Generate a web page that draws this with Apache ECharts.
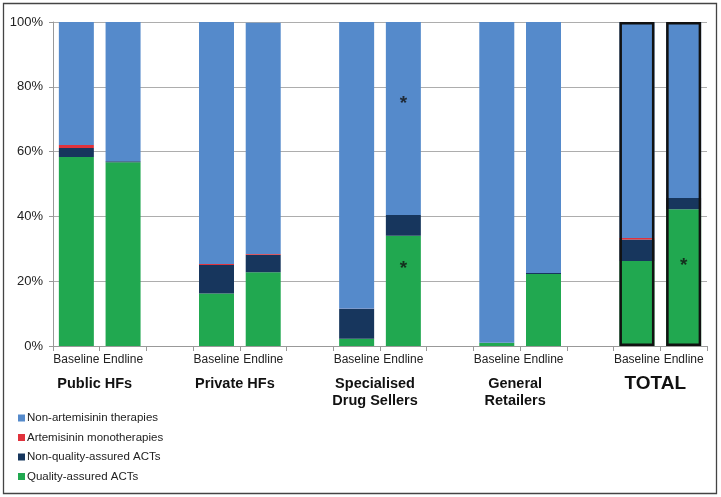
<!DOCTYPE html>
<html>
<head>
<meta charset="utf-8">
<style>
  html, body { margin: 0; padding: 0; background: #fff; }
  #chart { width: 721px; height: 497px; }
</style>
<script src="https://cdn.jsdelivr.net/npm/echarts@6/dist/echarts.min.js"></script>
</head>
<body>
<div id="chart"></div>
<script>
// ---- Data ----
const categories = [
  'Public HFs|Baseline', 'Public HFs|Endline', 'gap1',
  'Private HFs|Baseline', 'Private HFs|Endline', 'gap2',
  'Specialised Drug Sellers|Baseline', 'Specialised Drug Sellers|Endline', 'gap3',
  'General Retailers|Baseline', 'General Retailers|Endline', 'gap4',
  'TOTAL|Baseline', 'TOTAL|Endline'
];
const groupLabels = ['Public HFs', 'Private HFs', 'Specialised\nDrug Sellers', 'General\nRetailers', 'TOTAL'];
const groupFirstIndex = [0, 3, 6, 9, 12];
const yTicks = [0, 20, 40, 60, 80, 100];

const qualityAssured   = [58.3, 56.7, null, 16.2, 22.8, null, 2.2, 34.0, null, 1.0, 22.2, null, 26.2, 42.2];
const nonQualityACT    = [2.8, 0.3, null, 8.8, 5.4, null, 9.2, 6.4, null, 0, 0.3, null, 6.7, 3.5];
const artemisininMono  = [0.9, 0, null, 0.3, 0.2, null, 0.1, 0, null, 0, 0, null, 0.4, 0];
const nonArtemisinin   = [38.0, 43.0, null, 74.7, 71.4, null, 88.5, 59.6, null, 99.0, 77.5, null, 66.7, 54.3];
const outlinedIndices  = [12, 13];
const asterisks = [
  ['Specialised Drug Sellers|Endline', 76],
  ['Specialised Drug Sellers|Endline', 25],
  ['TOTAL|Endline', 26]
];

const C_BLUE = '#558ACB', C_RED = '#E0323C', C_NAVY = '#17365D', C_GREEN = '#21A850';

// outline series: total height of the stacked bar for highlighted bars
const outlineData = categories.map((c, i) => outlinedIndices.indexOf(i) >= 0
  ? (qualityAssured[i] + nonQualityACT[i] + artemisininMono[i] + nonArtemisinin[i]) : null);

const chart = echarts.init(document.getElementById('chart'), null, { renderer: 'canvas' });
const FONT = 'Liberation Sans, Arial, sans-serif';

function barSeries(name, data, color) {
  return {
    name, type: 'bar', stack: 'all', data, barWidth: 35, barGap: '-100%',
    itemStyle: { color }, emphasis: { disabled: true }, silent: true
  };
}

chart.setOption({
  animation: false,
  textStyle: { fontFamily: FONT },
  grid: { left: 53, right: 14, top: 22, bottom: 151, containLabel: false },
  legend: {
    orient: 'vertical', left: 13, top: 406,
    itemWidth: 7, itemHeight: 7, itemGap: 5.5,
    icon: 'rect',
    textStyle: { fontSize: 11.5, color: '#222', fontFamily: FONT, lineHeight: 14, padding: [0, 0, 0, -3] },
    data: ['Non-artemisinin therapies', 'Artemisinin monotherapies', 'Non-quality-assured ACTs', 'Quality-assured ACTs'],
    selectedMode: false
  },
  xAxis: {
    type: 'category', data: categories,
    axisLine: { lineStyle: { color: '#999', width: 1 } },
    axisTick: { show: true, length: 5, lineStyle: { color: '#999' }, alignWithLabel: false },
    axisLabel: {
      interval: 0, fontSize: 12, color: '#222', margin: 8, fontFamily: FONT,
      formatter: v => v.indexOf('|') >= 0 ? v.split('|')[1] : ''
    },
    splitLine: { show: false }
  },
  yAxis: {
    type: 'value', min: yTicks[0], max: yTicks[yTicks.length - 1], interval: 20,
    axisLine: { show: true, lineStyle: { color: '#999' } },
    axisTick: { show: true, length: 4, lineStyle: { color: '#999' } },
    axisLabel: { fontSize: 13, color: '#222', margin: 10, formatter: '{value}%', fontFamily: FONT },
    splitLine: { lineStyle: { color: '#ADADAD', width: 1 } }
  },
  series: [
    barSeries('Quality-assured ACTs', qualityAssured, C_GREEN),
    barSeries('Non-quality-assured ACTs', nonQualityACT, C_NAVY),
    barSeries('Artemisinin monotherapies', artemisininMono, C_RED),
    barSeries('Non-artemisinin therapies', nonArtemisinin, C_BLUE),
    {
      name: 'outline', type: 'bar', data: outlineData, barWidth: 35, barGap: '-100%',
      itemStyle: { color: 'rgba(0,0,0,0)', borderColor: '#111', borderWidth: 2.5 },
      silent: true, z: 5
    },
    {
      name: 'asterisk', type: 'scatter', data: asterisks, symbolSize: 1,
      itemStyle: { color: 'rgba(0,0,0,0)' }, silent: true, z: 6,
      label: {
        show: true, position: 'inside', formatter: '*', fontSize: 19, fontWeight: 'bold',
        color: '#111', fontFamily: FONT, offset: [0, 4]
      }
    }
  ]
});

// group labels centred under each Baseline/Endline pair
const graphics = [];
groupLabels.forEach((g, k) => {
  const i = groupFirstIndex[k];
  const x1 = chart.convertToPixel({ xAxisIndex: 0 }, categories[i]);
  const x2 = chart.convertToPixel({ xAxisIndex: 0 }, categories[i + 1]);
  const isTotal = g === 'TOTAL';
  graphics.push({
    type: 'text', silent: true,
    x: (x1 + x2) / 2 - 5, y: 375,
    style: {
      text: g, textAlign: 'center', textVerticalAlign: 'top',
      font: 'bold ' + (isTotal ? 19 : 14.5) + 'px ' + FONT,
      lineHeight: 17, fill: '#111'
    }
  });
});
graphics.push({
  type: 'rect', silent: true, z: -1,
  shape: { x: 3.5, y: 3.5, width: 713, height: 490 },
  style: { fill: 'none', stroke: '#444', lineWidth: 1.3 }
});
chart.setOption({ graphic: graphics });
</script>
</body>
</html>
